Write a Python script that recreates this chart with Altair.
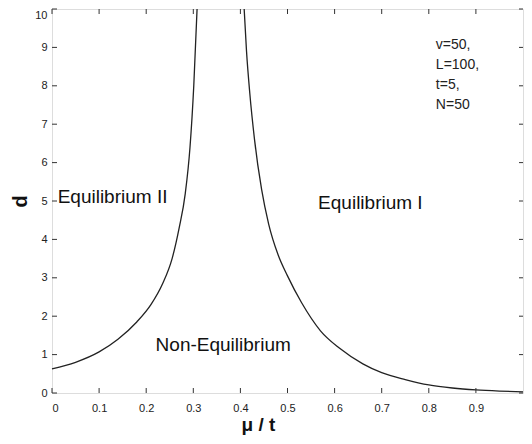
import altair as alt
import pandas as pd

# Left boundary (Equilibrium II / Non-Equilibrium)
left_x = [0.0, 0.05, 0.10, 0.14, 0.18, 0.21, 0.235, 0.255, 0.27, 0.283, 0.293, 0.301, 0.308]
left_d = [0.63, 0.80, 1.07, 1.40, 1.85, 2.30, 2.85, 3.50, 4.30, 5.20, 6.40, 8.00, 10.0]
# Right boundary (Non-Equilibrium / Equilibrium I)
right_x = [0.408, 0.413, 0.42, 0.43, 0.445, 0.46, 0.48, 0.50, 0.53, 0.57, 0.61, 0.66, 0.70, 0.75, 0.80, 0.85, 0.90, 0.95, 1.0]
right_d = [10.0, 8.9, 7.8, 6.6, 5.3, 4.4, 3.6, 3.05, 2.35, 1.62, 1.17, 0.76, 0.53, 0.35, 0.21, 0.13, 0.08, 0.05, 0.03]

x_ticks = [0, 0.1, 0.2, 0.3, 0.4, 0.5, 0.6, 0.7, 0.8, 0.9]
y_ticks = [0, 1, 2, 3, 4, 5, 6, 7, 8, 9, 10]

region_labels = ["Equilibrium II", "Equilibrium I", "Non-Equilibrium"]
region_x = [0.012, 0.565, 0.22]
region_d = [5.1, 4.95, 1.25]

params = ["v=50,", "L=100,", "t=5,", "N=50"]
params_x = [0.815]
params_d = [9.25]

W, H = 471, 384

curve = pd.DataFrame({
    "x": left_x + right_x,
    "d": left_d + right_d,
    "branch": ["left"] * len(left_x) + ["right"] * len(right_x),
})
xt = pd.DataFrame({"x": x_ticks})
yt = pd.DataFrame({"d": y_ticks})
regions = pd.DataFrame({"label": region_labels, "x": region_x, "d": region_d})
par = pd.DataFrame({"label": ["\n".join(params)], "x": params_x, "d": params_d})

xs = alt.Scale(domain=[0, 1.0], nice=False, zero=False)
ys = alt.Scale(domain=[0, 10], nice=False, zero=False)

xaxis = alt.Axis(values=x_ticks, ticks=False, tickSize=0, labelPadding=9, labelFontSize=11,
                 labelColor="#222", labelFont="Liberation Sans", grid=False, domain=False,
                 labelOverlap=False,
                 labelExpr="datum.value == 0 ? '0' : format(datum.value, '.1f')",
                 title="μ / t", titleFont="Liberation Sans", titleFontSize=19, titleFontWeight="bold",
                 titleColor="#111", titlePadding=2, titleX=206, titleAlign="center")
yaxis = alt.Axis(values=y_ticks, ticks=False, tickSize=0, labelPadding=5, labelFontSize=11,
                 labelColor="#222", labelFont="Liberation Sans", grid=False, domain=False,
                 labelOverlap=False,
                 labelBaseline={"condition": {"test": "datum.value == 10", "value": "top"}, "value": "middle"},
                 title="d", titleFont="Liberation Sans", titleFontSize=20, titleFontWeight="bold",
                 titleColor="#111", titlePadding=4)


def X(field):
    return alt.X(field, scale=xs, axis=xaxis)


def Y(field):
    return alt.Y(field, scale=ys, axis=yaxis)


lines = alt.Chart(curve).mark_line(color="#222", strokeWidth=1.3, interpolate="monotone").encode(
    x=X("x:Q"), y=Y("d:Q"), detail="branch:N",
)

tick_color = "#333"
bottom_ticks = alt.Chart(xt).mark_rule(color=tick_color).encode(
    x=X("x:Q"), y=alt.value(H), y2=alt.value(H - 5))
top_ticks = alt.Chart(xt).mark_rule(color=tick_color).encode(
    x=X("x:Q"), y=alt.value(0), y2=alt.value(5))
left_ticks = alt.Chart(yt).mark_rule(color=tick_color).encode(
    y=Y("d:Q"), x=alt.value(0), x2=alt.value(5))
right_ticks = alt.Chart(yt).mark_rule(color=tick_color).encode(
    y=Y("d:Q"), x=alt.value(W), x2=alt.value(W - 4))

region_text = alt.Chart(regions).mark_text(
    align="left", baseline="middle", fontSize=19, font="Liberation Sans", color="#111"
).encode(x=X("x:Q"), y=Y("d:Q"), text="label:N")

param_text = alt.Chart(par).mark_text(
    align="left", baseline="top", fontSize=14, font="Liberation Sans", color="#222",
    lineBreak="\n", lineHeight=20
).encode(x=X("x:Q"), y=Y("d:Q"), text="label:N")

chart = alt.layer(
    lines, bottom_ticks, top_ticks, left_ticks, right_ticks, region_text, param_text
).properties(
    width=W, height=H,
    autosize=alt.AutoSizeParams(type="none"),
    padding={"left": 44, "top": 1, "right": 1, "bottom": 43},
).configure_view(stroke="#333", strokeWidth=1.2).configure(background="white")

chart.save("out.html", embed_options={"renderer": "svg", "actions": False})
